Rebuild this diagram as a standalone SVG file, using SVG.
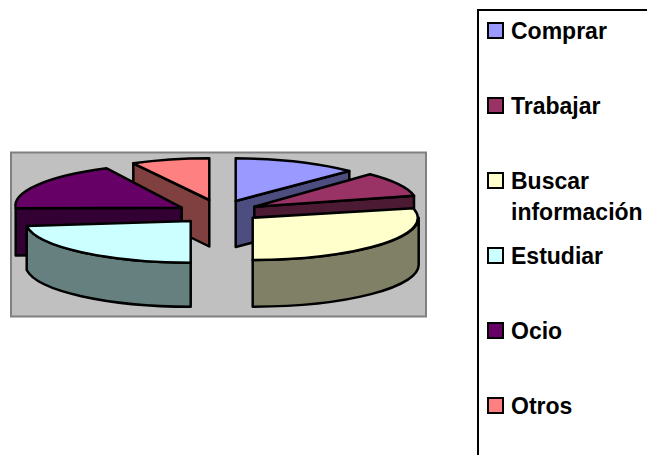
<svg xmlns="http://www.w3.org/2000/svg" width="647" height="455" viewBox="0 0 647 455">
  <style>
    .edge { stroke: #000; stroke-width: 2.5; stroke-linejoin: round; }
    .lbl { font-family: "Liberation Sans", Arial, sans-serif; font-weight: bold; font-size: 23px; fill: #000; }
    .key { stroke: #000; stroke-width: 2; }
  </style>
  <rect width="647" height="455" fill="#fff"/>

  <!-- plot area -->
  <rect x="11" y="152.5" width="415" height="164" fill="#C0C0C0" stroke="#808080" stroke-width="2"/>

  <!-- exploded 3D pie -->
  <g id="slice-otros">
    <path class="edge" fill="#804040" d="M133.3,163.3 L209.3,200 L209.3,246.5 L133.3,209.5 Z"/>
    <path class="edge" fill="#FF8080" d="M209.3,200 L133.3,163.3 A166,42 0 0 1 209.3,158.3 Z"/>
  </g>
  <g id="slice-comprar">
    <path class="edge" fill="#4D4D80" d="M235.7,201 L349.3,171 L349.3,217 L235.7,247 Z"/>
    <path class="edge" fill="#9999FF" d="M235.7,201 L235.7,158.3 A166,42 0 0 1 349.3,171 Z"/>
  </g>
  <g id="slice-trabajar">
    <path class="edge" fill="#4D1A33" d="M254.3,206.7 L414,195.7 L414,241.7 L254.3,252.7 Z"/>
    <path class="edge" fill="#993366" d="M254.3,206.7 L370,174.3 A166,42 0 0 1 414,195.7 Z"/>
  </g>
  <g id="slice-ocio">
    <path class="edge" fill="#330033" d="M15.7,208.3 L181.7,207.7 L181.7,254 L15.7,255.5 Z"/>
    <path class="edge" fill="#660066" d="M181.7,207.7 L15.7,208.3 A166,42 0 0 1 106.7,168.3 Z"/>
  </g>
  <g id="slice-buscar">
    <path class="edge" fill="#808066" d="M418.7,217.7 A166,42 0 0 1 252.7,260 L252.7,306.7 A166,42 0 0 0 418.7,264 Z"/>
    <path class="edge" fill="#FFFFCC" d="M252.7,217.7 L413.3,208.3 A166,42 0 0 1 252.7,260 Z"/>
  </g>
  <g id="slice-estudiar">
    <path class="edge" fill="#668080" d="M190.7,262.7 A166,42 0 0 1 26.7,226 L26.7,270 A166,42 0 0 0 190.7,306.7 Z"/>
    <path class="edge" fill="#CCFFFF" d="M190.7,221 L190.7,262.7 A166,42 0 0 1 26.7,226 Z"/>
  </g>

  <!-- legend -->
  <g id="legend">
    <rect x="478" y="10" width="220" height="470" fill="#fff" stroke="#000" stroke-width="2"/>
    <g id="key-comprar">
      <rect class="key" x="488" y="23" width="15" height="15" fill="#9999FF"/>
      <text class="lbl" x="511" y="39">Comprar</text>
    </g>
    <g id="key-trabajar">
      <rect class="key" x="488" y="98" width="15" height="15" fill="#993366"/>
      <text class="lbl" x="511" y="114">Trabajar</text>
    </g>
    <g id="key-buscar">
      <rect class="key" x="488" y="173" width="15" height="15" fill="#FFFFCC"/>
      <text class="lbl" x="511" y="189">Buscar</text>
      <text class="lbl" x="511" y="220">información</text>
    </g>
    <g id="key-estudiar">
      <rect class="key" x="488" y="248" width="15" height="15" fill="#CCFFFF"/>
      <text class="lbl" x="511" y="264">Estudiar</text>
    </g>
    <g id="key-ocio">
      <rect class="key" x="488" y="323" width="15" height="15" fill="#660066"/>
      <text class="lbl" x="511" y="339">Ocio</text>
    </g>
    <g id="key-otros">
      <rect class="key" x="488" y="398" width="15" height="15" fill="#FF8080"/>
      <text class="lbl" x="511" y="414">Otros</text>
    </g>
  </g>
</svg>
